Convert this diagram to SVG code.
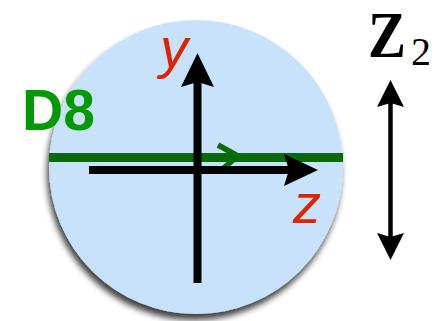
<svg xmlns="http://www.w3.org/2000/svg" width="442" height="321" viewBox="0 0 442 321">
<defs>
<filter id="sh" x="-20%" y="-20%" width="140%" height="140%">
<feGaussianBlur in="SourceAlpha" stdDeviation="3"/>
<feOffset dx="-2" dy="6" result="b"/>
<feComponentTransfer><feFuncA type="linear" slope="0.75"/></feComponentTransfer>
<feMerge><feMergeNode/><feMergeNode in="SourceGraphic"/></feMerge>
</filter>
<style>
.ax{stroke:#000;stroke-width:8;fill:none}
.hd{fill:#000}
.lbl{font-family:"Liberation Sans",Arial,sans-serif;font-style:italic;fill:#dd2200;font-size:56px}
</style>
</defs>
<rect width="442" height="321" fill="#fff"/>
<g id="disk">
<circle cx="196" cy="167" r="147" fill="#c8e2fb" filter="url(#sh)"/>
</g>
<g id="d8">
<rect x="49" y="153" width="294" height="9" fill="#076907"/>
<polyline points="218,145 238,156 220,171" fill="none" stroke="#0a6b0a" stroke-width="5.5"/>
<text x="22" y="130" font-family="'Liberation Sans',Arial,sans-serif" font-weight="bold" font-size="57" fill="#009900">D8</text>
</g>
<g id="connectors">
<line class="ax" x1="197.5" y1="283" x2="197.5" y2="80"/>
<path class="hd" d="M197.5,53 L214,87 L197.5,82 L181,87 Z"/>
<line class="ax" x1="89" y1="170" x2="292" y2="170"/>
<path class="hd" d="M318,170 L284,186 L289,170 L284,154 Z"/>
<line stroke="#000" stroke-width="4.5" x1="390.5" y1="100" x2="390.5" y2="240"/>
<path class="hd" d="M390.5,80 L404,107 L390.5,103 L377,107 Z"/>
<path class="hd" d="M390.5,260 L404,233 L390.5,237 L377,233 Z"/>
</g>
<g id="labels">
<text class="lbl" x="160" y="67">y</text>
<text class="lbl" x="293" y="223">z</text>
<text x="368" y="57" font-family="'Liberation Serif','Times New Roman',serif" font-weight="bold" font-size="66" textLength="38" lengthAdjust="spacingAndGlyphs">Z</text>
<text x="411" y="65" font-family="'Liberation Serif','Times New Roman',serif" font-size="40">2</text>
</g>
</svg>
